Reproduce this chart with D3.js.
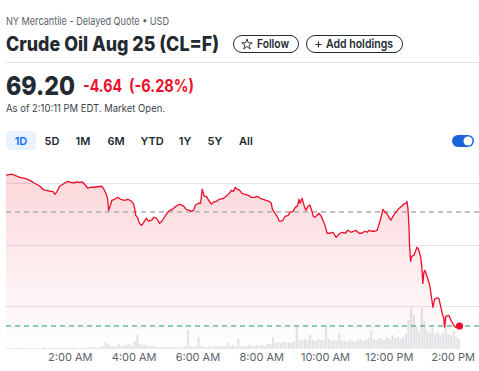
<!DOCTYPE html>
<html lang="en">
<head>
<meta charset="utf-8">
<title>Crude Oil Aug 25 (CL=F)</title>
<script src="https://d3js.org/d3.v7.min.js"></script>
<style>
  body { margin: 0; background: #fff; }
  svg { display: block; font-family: Inter, "Open Sans", sans-serif; }
</style>
</head>
<body>
<div id="vis"></div>
<script>
// intraday 1D data, minutes after midnight and price
var mins = [0,6,11,19,26,36,45,54,64,69,73,79,83,88,92,96,101,107,113,116,122,128,133,139,143,148,154,159,167,173,
  180,184,188,191,193,197,199,204,210,216,223,229,233,236,240,242,244,248,251,255,259,264,268,274,278,283,289,293,298,
  304,308,313,317,323,326,330,334,339,345,349,353,356,362,366,369,373,377,381,384,386,390,396,401,409,414,420,424,428,
  431,435,439,444,450,456,461,467,473,478,484,489,495,499,501,506,510,514,518,521,525,531,534,540,544,548,551,553,557,
  561,564,568,572,576,578,581,585,589,593,596,600,604,609,615,621,626,632,638,643,649,654,658,664,669,675,679,683,688,
  694,698,701,705,709,713,716,720,724,728,733,739,744,748,752,754,756,758,759,761,763,767,771,773,776,780,782,784,786,
  788,791,793,797,799,803,806,810,814,818,821,823,825,827,833,836,838,842,846,849,853];
var prices = [75.33,75.35,75.37,75.30,75.24,75.20,75.12,75.00,74.88,74.76,74.72,74.70,74.67,74.67,74.55,74.67,74.88,74.96,75.04,75.08,75.04,75.02,75.06,75.04,75.06,74.96,74.80,74.84,74.84,74.86,
  74.88,74.76,74.59,74.39,73.90,74.15,74.31,74.35,74.43,74.35,74.31,74.35,74.31,74.27,74.15,73.98,73.70,73.58,73.37,73.29,73.41,73.58,73.46,73.50,73.62,73.58,73.37,73.46,73.62,
  73.82,73.90,73.94,74.02,74.11,74.15,74.11,74.07,73.94,73.90,73.86,73.90,74.11,74.19,74.19,74.76,74.47,74.47,74.31,74.23,74.15,74.23,74.27,74.35,74.39,74.47,74.59,74.72,74.67,
  74.84,74.76,74.72,74.59,74.55,74.51,74.43,74.43,74.47,74.39,74.35,74.31,74.27,74.19,73.94,73.78,73.66,73.46,73.46,73.50,73.66,73.70,73.82,73.86,74.02,74.07,74.35,74.19,74.39,
  74.07,73.90,74.07,74.11,73.82,73.66,73.62,73.70,73.78,73.66,73.50,73.29,72.97,72.97,73.01,72.80,72.93,73.01,72.97,73.09,73.01,73.05,73.09,72.97,72.97,73.05,73.01,73.09,73.05,
  73.05,73.09,73.29,73.58,73.94,73.82,73.78,73.62,73.50,73.66,73.82,73.98,74.07,74.15,74.19,74.27,73.98,73.21,72.48,71.83,72.03,72.07,72.28,72.40,72.32,71.99,71.63,70.93,71.38,
  71.46,71.26,71.14,70.85,70.57,69.96,70.28,70.33,70.33,69.96,69.67,69.55,69.15,69.59,69.63,69.47,69.39,69.23,69.15,69.19,69.20];

// volume per 5 minute bucket, starting 12:00 AM
var volume = [
  100,100,80,100,120,100,100,90,100,110,100,100,
  100,100,200,100,100,120,100,200,100,100,120,100,
  100,200,100,120,200,100,100,200,120,200,100,200,
  300,700,500,300,300,300,500,300,300,400,500,300,
  800,1400,500,400,400,300,300,300,200,200,200,200,
  200,200,200,200,100,200,200,300,1900,300,200,300,
  1200,300,200,200,300,200,300,200,300,300,300,600,
  300,400,300,1000,300,300,300,400,300,300,400,300,
  400,300,500,500,1200,600,700,600,800,600,700,600,
  800,2300,900,800,1000,900,1400,900,800,1000,900,900,
  2400,1000,800,900,800,1600,900,800,700,900,800,700,
  900,1000,800,900,1100,1800,1000,900,1100,1000,900,1200,
  1000,1400,1100,1200,1000,1200,1500,2900,4200,3400,2200,1800,
  4100,2800,1800,1600,2100,1500,1700,1400,1600,3200,1500,1400,
  1800,1200,1000];

var prevClose = 73.84;
var lastPrice = 69.20;
var gridPrices = [70, 72.5, 75];
var tickHours = [2, 4, 6, 8, 10, 12, 14];
var ranges = ["1D", "5D", "1M", "6M", "YTD", "1Y", "5Y", "All"];

var width = 479, height = 371;
var red = "#eb0f29", ink = "#232a31", grey = "#5b636a";

var svg = d3.select("#vis").append("svg")
  .attr("width", width)
  .attr("height", height);

// ---- header ----
svg.append("text").attr("x", 6).attr("y", 25)
  .attr("font-size", 11).attr("fill", grey)
  .attr("textLength", 163).attr("lengthAdjust", "spacingAndGlyphs")
  .text("NY Mercantile - Delayed Quote \u2022 USD");

svg.append("text").attr("x", 6).attr("y", 51)
  .attr("font-size", 20).attr("font-weight", 800).attr("fill", ink)
  .attr("textLength", 213).attr("lengthAdjust", "spacingAndGlyphs")
  .text("Crude Oil Aug 25 (CL=F)");

var buttons = [
  {x: 233.5, w: 65, label: "Follow", lx: 257, lw: 32},
  {x: 306.5, w: 96, label: "Add holdings", lx: 326, lw: 67}
];
buttons.forEach(function(b) {
  svg.append("rect").attr("x", b.x).attr("y", 35.5).attr("width", b.w).attr("height", 17)
    .attr("rx", 8.5).attr("fill", "#fff").attr("stroke", ink);
  svg.append("text").attr("x", b.lx).attr("y", 48)
    .attr("font-size", 12).attr("font-weight", 600).attr("fill", ink)
    .attr("textLength", b.lw).attr("lengthAdjust", "spacingAndGlyphs")
    .text(b.label);
});
// icons
svg.append("path")
  .attr("d", d3.symbol().type(d3.symbolStar).size(34)())
  .attr("transform", "translate(247,44.5)")
  .attr("fill", "none").attr("stroke", ink).attr("stroke-width", 0.9);
svg.append("path")
  .attr("d", "M315.5,44.5h6M318.5,41.5v6")
  .attr("stroke", ink).attr("stroke-width", 1.1);

svg.append("line").attr("x1", 6).attr("x2", width).attr("y1", 62.5).attr("y2", 62.5)
  .attr("stroke", "#e0e4e9");

svg.append("text").attr("x", 6).attr("y", 95)
  .attr("font-size", 26).attr("font-weight", 800).attr("fill", ink)
  .attr("textLength", 69).attr("lengthAdjust", "spacingAndGlyphs")
  .text(lastPrice.toFixed(2));

var chg = lastPrice - prevClose;
svg.append("text").attr("x", 83).attr("y", 92)
  .attr("font-size", 17).attr("font-weight", 700).attr("fill", red)
  .attr("textLength", 39).attr("lengthAdjust", "spacingAndGlyphs")
  .text(chg.toFixed(2));
svg.append("text").attr("x", 129).attr("y", 92)
  .attr("font-size", 17).attr("font-weight", 700).attr("fill", red)
  .attr("textLength", 65).attr("lengthAdjust", "spacingAndGlyphs")
  .text("(" + (chg / prevClose * 100).toFixed(2) + "%)");

svg.append("text").attr("x", 6).attr("y", 112)
  .attr("font-size", 10.5).attr("fill", "#3c434a")
  .attr("textLength", 159).attr("lengthAdjust", "spacingAndGlyphs")
  .text("As of 2:10:11 PM EDT. Market Open.");

// range selector
var rangeX = [21, 52, 83, 116, 152, 185, 215, 246];
svg.append("rect").attr("x", 6).attr("y", 131).attr("width", 30).attr("height", 19)
  .attr("rx", 4).attr("fill", "#eaf2fe");
svg.selectAll(".range").data(ranges).enter().append("text")
  .attr("class", "range")
  .attr("x", function(d, i) { return rangeX[i]; })
  .attr("y", 145)
  .attr("text-anchor", "middle")
  .attr("font-size", 11).attr("font-weight", 600)
  .attr("fill", function(d, i) { return i == 0 ? "#0f69ff" : ink; })
  .text(function(d) { return d; });

// toggle
svg.append("rect").attr("x", 452).attr("y", 135).attr("width", 22).attr("height", 12)
  .attr("rx", 6).attr("fill", "#1d63dc");
svg.append("circle").attr("cx", 468).attr("cy", 141).attr("r", 4.5).attr("fill", "#fff");

// ---- chart ----
var day = new Date(2025, 6, 1);
function toDate(m) { return new Date(day.getTime() + m * 60000); }

var plot = {left: 6, top: 170, bottom: 349};

var x = d3.scaleTime()
  .domain([toDate(0), toDate(17 * 60)])
  .range([plot.left, plot.left + 17 * 31.9]);

var y = d3.scaleLinear()
  .domain([70, 75])
  .range([306.3, 183.3]);

var yVol = d3.scaleLinear()
  .domain([0, 4200])
  .range([plot.bottom, plot.bottom - 42]);

var data = mins.map(function(m, i) { return {t: toDate(m), p: prices[i]}; });

var defs = svg.append("defs");
var grad = defs.append("linearGradient").attr("id", "fade")
  .attr("gradientUnits", "userSpaceOnUse")
  .attr("x1", 0).attr("x2", 0).attr("y1", 174).attr("y2", plot.bottom);
grad.append("stop").attr("offset", 0).attr("stop-color", red).attr("stop-opacity", 0.17);
grad.append("stop").attr("offset", 0.45).attr("stop-color", red).attr("stop-opacity", 0.09);
grad.append("stop").attr("offset", 1).attr("stop-color", red).attr("stop-opacity", 0.0);

// gridlines
svg.append("g").selectAll("line").data(gridPrices).enter().append("line")
  .attr("x1", plot.left).attr("x2", width)
  .attr("y1", function(d) { return Math.round(y(d)) + 0.5; })
  .attr("y2", function(d) { return Math.round(y(d)) + 0.5; })
  .attr("stroke", "#e3e3ea");

// volume
svg.append("g").selectAll("rect").data(volume).enter().append("rect")
  .attr("x", function(d, i) { return x(toDate(i * 5)); })
  .attr("width", 2.2)
  .attr("y", function(d) { return yVol(d); })
  .attr("height", function(d) { return plot.bottom - yVol(d); })
  .attr("fill", "#e3e5e9");

var area = d3.area()
  .x(function(d) { return x(d.t); })
  .y0(plot.bottom)
  .y1(function(d) { return y(d.p); });

var line = d3.line()
  .x(function(d) { return x(d.t); })
  .y(function(d) { return y(d.p); });

svg.append("path").attr("d", area(data)).attr("fill", "url(#fade)");

// previous close
svg.append("line")
  .attr("x1", plot.left).attr("x2", width)
  .attr("y1", y(prevClose)).attr("y2", y(prevClose))
  .attr("stroke", "#b9b9b9").attr("stroke-width", 1.8)
  .attr("stroke-dasharray", "5,4");

svg.append("path").attr("d", line(data))
  .attr("fill", "none").attr("stroke", red)
  .attr("stroke-width", 1.3).attr("stroke-linejoin", "round");

// current price
svg.append("line")
  .attr("x1", plot.left).attr("x2", width)
  .attr("y1", y(lastPrice)).attr("y2", y(lastPrice))
  .attr("stroke", "#1a9a72").attr("stroke-width", 1)
  .attr("stroke-dasharray", "5,4");

var last = data[data.length - 1];
svg.append("circle")
  .attr("cx", x(last.t)).attr("cy", y(last.p)).attr("r", 3.6)
  .attr("fill", red);

// x axis
var xAxis = d3.axisBottom(x)
  .tickValues(tickHours.map(function(h) { return toDate(h * 60); }))
  .tickFormat(d3.timeFormat("%-I:%M %p"))
  .tickSize(0)
  .tickPadding(0);

var gx = svg.append("g")
  .attr("transform", "translate(0," + 353 + ")")
  .call(xAxis);
gx.select(".domain").remove();
gx.selectAll("text")
  .attr("font-size", 11)
  .attr("font-family", "Inter, sans-serif")
  .attr("fill", grey)
  .attr("dy", "0.71em");
</script>
</body>
</html>
